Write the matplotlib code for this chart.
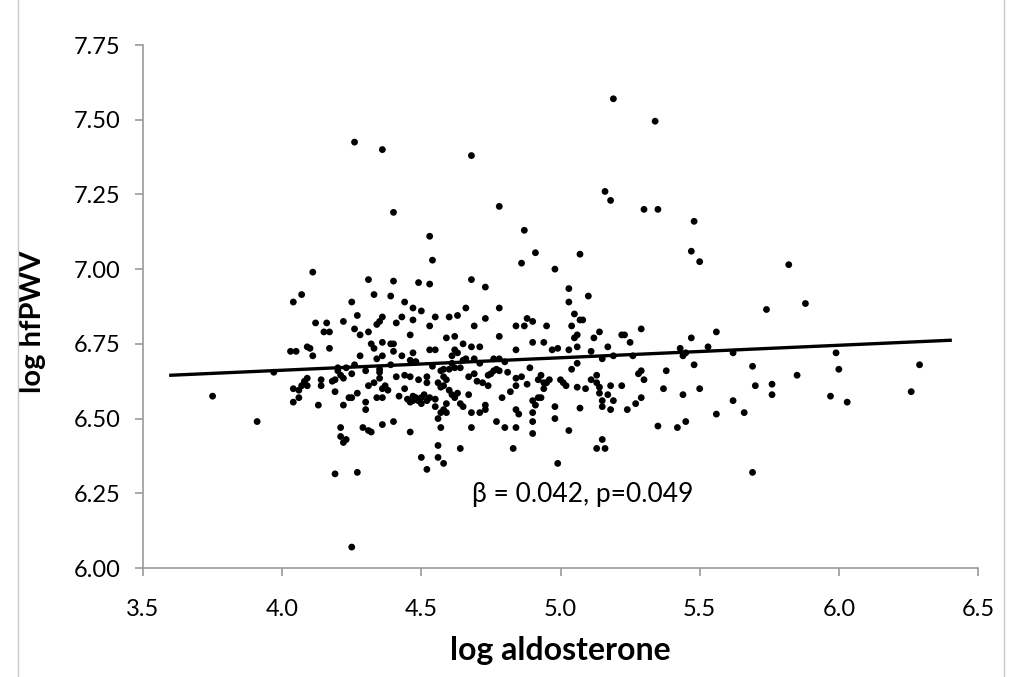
import numpy as np
import matplotlib.pyplot as plt
from matplotlib.patches import Rectangle

# log aldosterone / log hfPWV pairs
aldo = [
    4.26, 4.36, 4.68, 5.19, 5.34, 5.16, 5.18, 4.78, 4.40, 5.30, 5.35, 5.48, 4.87, 4.53,
    5.07, 4.91, 5.47, 4.54, 4.86, 5.50, 5.82, 4.98, 4.11, 4.31, 4.40, 4.49, 4.53, 4.68,
    4.73, 5.03, 4.07, 4.33, 4.39, 5.10, 4.04, 4.25, 4.44, 5.03, 5.88, 4.47, 4.66, 4.50,
    4.78, 5.74, 5.05, 4.27, 4.63, 4.55, 4.36, 4.43, 4.60, 4.88, 5.07, 5.08, 4.73, 4.47,
    4.90, 4.35, 4.22, 4.34, 4.12, 4.41, 4.16, 4.84, 4.53, 4.87, 4.95, 4.26, 4.31, 4.69,
    5.04, 5.29, 4.17, 4.15, 4.28, 4.59, 4.78, 4.62, 4.46, 5.06, 5.14, 5.22, 5.23, 5.47,
    5.56, 5.05, 5.12, 4.32, 4.39, 4.40, 4.53, 4.55, 4.36, 4.09, 4.10, 4.05, 4.17, 4.65,
    4.68, 4.71, 4.90, 4.94, 5.17, 5.25, 5.03, 5.06, 4.99, 4.97, 5.43, 5.45, 5.53, 5.44,
    5.99, 5.62, 4.84, 4.62, 4.40, 4.47, 4.63, 4.61, 4.36, 4.34, 4.11, 5.11, 5.15, 5.19,
    5.26, 4.76, 4.80, 4.78, 4.66, 4.69, 4.46, 4.48, 4.71,
    3.97, 4.23, 4.26, 4.20, 4.20, 4.21, 4.35, 4.35, 4.30, 4.14, 4.09, 4.08, 4.09, 4.07,
    4.08, 4.04, 4.06, 4.14, 4.18, 4.19, 4.22, 4.25, 4.31, 4.33, 4.35, 4.36, 4.37, 4.41,
    4.44, 4.46, 4.49, 4.52, 4.52, 4.56, 4.58, 4.58, 4.59, 4.60, 4.58, 4.57, 4.62, 4.64,
    4.67, 4.69, 4.75, 4.76, 4.77, 4.78, 4.72, 4.74, 4.79, 4.82, 4.84, 4.84, 4.89, 4.93,
    4.92, 4.94, 4.95, 4.96, 5.00, 5.01, 5.02, 5.04, 5.06, 5.06, 5.11, 5.13, 5.13, 5.14,
    5.18, 5.22, 5.28, 5.29, 5.30, 5.38, 5.37, 5.48, 5.50, 5.69, 5.70, 5.76, 5.76, 5.85,
    6.00, 5.97, 6.29, 6.26, 6.03, 5.44, 5.62, 5.56, 5.66, 5.69, 5.35, 5.42, 5.45, 5.27,
    5.24, 5.29, 5.18, 5.19, 5.15, 5.15, 5.17, 5.14, 5.13, 5.15, 5.16, 5.03, 4.99, 4.98,
    4.98, 5.07, 5.09, 4.93, 4.92, 4.91, 4.90, 4.90, 4.90, 4.90, 4.94, 4.85, 4.84, 4.84,
    4.80, 4.83, 4.77, 4.73, 4.73, 4.71, 4.68, 4.68, 4.64, 4.65, 4.64, 4.67, 4.61, 4.62,
    4.59, 4.58, 4.57, 4.59, 4.56, 4.57, 4.56, 4.56, 4.58, 4.50, 4.52, 4.50, 4.49, 4.48,
    4.47, 4.46, 4.50, 4.52, 4.53, 4.55, 4.46, 4.40, 4.36, 4.34, 4.36, 4.31, 4.32, 4.29,
    4.30, 4.30, 4.27, 4.25, 4.24, 4.22, 4.19, 4.21, 4.22, 4.23, 4.21, 4.19, 4.27, 4.25,
    4.13, 4.04, 4.06, 3.75, 3.91, 4.03,
    4.45, 4.47, 4.49, 4.51, 4.55, 4.57, 4.60, 4.63, 4.44, 4.42, 4.38, 4.70, 4.74, 4.81,
    4.86, 4.88, 4.65, 4.61, 4.54, 4.48, 4.43, 4.39, 4.28, 4.33,
]
pwv = [
    7.425, 7.40, 7.38, 7.57, 7.495, 7.26, 7.23, 7.21, 7.19, 7.20, 7.20, 7.16, 7.13, 7.11,
    7.05, 7.055, 7.06, 7.03, 7.02, 7.025, 7.015, 7.00, 6.99, 6.965, 6.96, 6.955, 6.95, 6.965,
    6.94, 6.935, 6.915, 6.915, 6.91, 6.91, 6.89, 6.89, 6.89, 6.89, 6.885, 6.87, 6.87, 6.86,
    6.87, 6.865, 6.85, 6.845, 6.845, 6.84, 6.84, 6.84, 6.84, 6.835, 6.83, 6.83, 6.835, 6.83,
    6.825, 6.825, 6.825, 6.815, 6.82, 6.82, 6.82, 6.81, 6.81, 6.81, 6.81, 6.80, 6.79, 6.81,
    6.81, 6.80, 6.79, 6.79, 6.78, 6.77, 6.775, 6.775, 6.78, 6.78, 6.79, 6.78, 6.78, 6.77,
    6.79, 6.77, 6.77, 6.75, 6.75, 6.75, 6.73, 6.73, 6.755, 6.74, 6.735, 6.725, 6.735, 6.75,
    6.74, 6.74, 6.755, 6.755, 6.74, 6.755, 6.73, 6.74, 6.735, 6.73, 6.735, 6.72, 6.74, 6.71,
    6.72, 6.72, 6.73, 6.73, 6.725, 6.72, 6.72, 6.71, 6.71, 6.70, 6.71, 6.725, 6.70, 6.71,
    6.71, 6.70, 6.69, 6.70, 6.70, 6.70, 6.695, 6.69, 6.685,
    6.655, 6.67, 6.68, 6.67, 6.66, 6.645, 6.655, 6.665, 6.66, 6.63, 6.635, 6.625, 6.61, 6.61,
    6.62, 6.60, 6.595, 6.61, 6.625, 6.63, 6.635, 6.65, 6.61, 6.62, 6.635, 6.60, 6.61, 6.64,
    6.645, 6.64, 6.63, 6.64, 6.62, 6.62, 6.61, 6.64, 6.63, 6.665, 6.665, 6.66, 6.67, 6.67,
    6.64, 6.65, 6.65, 6.66, 6.665, 6.66, 6.62, 6.61, 6.57, 6.59, 6.61, 6.635, 6.67, 6.645,
    6.63, 6.62, 6.62, 6.63, 6.63, 6.62, 6.61, 6.665, 6.685, 6.605, 6.63, 6.645, 6.62, 6.605,
    6.61, 6.61, 6.65, 6.66, 6.63, 6.66, 6.60, 6.68, 6.60, 6.675, 6.61, 6.615, 6.58, 6.645,
    6.665, 6.575, 6.68, 6.59, 6.555, 6.58, 6.56, 6.515, 6.52, 6.32, 6.475, 6.47, 6.49, 6.55,
    6.53, 6.57, 6.53, 6.56, 6.54, 6.56, 6.58, 6.585, 6.40, 6.43, 6.40, 6.46, 6.35, 6.50,
    6.54, 6.535, 6.60, 6.57, 6.57, 6.545, 6.56, 6.52, 6.49, 6.45, 6.60, 6.515, 6.53, 6.47,
    6.47, 6.40, 6.49, 6.53, 6.545, 6.52, 6.47, 6.52, 6.55, 6.54, 6.40, 6.58, 6.58, 6.57,
    6.55, 6.53, 6.52, 6.52, 6.50, 6.47, 6.41, 6.37, 6.35, 6.37, 6.33, 6.57, 6.56, 6.57,
    6.56, 6.555, 6.55, 6.56, 6.57, 6.54, 6.455, 6.49, 6.48, 6.57, 6.57, 6.46, 6.455, 6.47,
    6.53, 6.555, 6.585, 6.57, 6.57, 6.545, 6.59, 6.44, 6.42, 6.43, 6.47, 6.315, 6.32, 6.07,
    6.545, 6.555, 6.57, 6.575, 6.49, 6.725,
    6.565, 6.575, 6.56, 6.58, 6.565, 6.605, 6.595, 6.585, 6.60, 6.575, 6.595, 6.625, 6.645, 6.655,
    6.64, 6.615, 6.695, 6.685, 6.675, 6.69, 6.71, 6.68, 6.71, 6.735,
]

beta_text = "\u03b2 = 0.042, p=0.049"
line_x = [3.6, 6.4]
# fitted line ends as drawn
line_y = [6.645, 6.762]

xticks = [3.5, 4.0, 4.5, 5.0, 5.5, 6.0, 6.5]
yticks = [6.00, 6.25, 6.50, 6.75, 7.00, 7.25, 7.50, 7.75]

plt.rcParams['font.family'] = ['Lato', 'DejaVu Sans']

fig = plt.figure(figsize=(10.10, 6.77), dpi=100)
ax = fig.add_axes([143/1010, 1 - 568/677, (978 - 143)/1010, (568 - 45)/677])

ax.scatter(aldo, pwv, s=24, color='black', edgecolors='none', zorder=3)
ax.plot(line_x, line_y, color='black', lw=2.4, zorder=4)
ax.text(5.08, 6.245, beta_text, fontsize=19, ha='center', va='center')

ax.set_xlim(3.5, 6.5)
ax.set_ylim(6.0, 7.75)
ax.set_xticks(xticks)
ax.set_xticklabels([f"{v:.1f}" for v in xticks])
ax.set_yticks(yticks)
ax.set_yticklabels([f"{v:.2f}" for v in yticks])
ax.tick_params(axis='both', labelsize=17, color='#9a9a9a', length=6, width=1.2)
ax.tick_params(axis='x', pad=16)
ax.tick_params(axis='y', pad=10)
for side in ['top', 'right']:
    ax.spines[side].set_visible(False)
for side in ['left', 'bottom']:
    ax.spines[side].set_color('#9a9a9a')
    ax.spines[side].set_linewidth(1.2)

ax.set_xlabel("log aldosterone", fontsize=23, fontweight='bold', labelpad=12)
ax.set_ylabel("log hfPWV", fontsize=21, fontweight='bold', labelpad=20)
ax.yaxis.label.set_y(0.47)

# thin chart-area frame like the Excel export
fig.patches.append(Rectangle((18/1010, -0.01), (1004 - 18)/1010, 1.02, transform=fig.transFigure,
                             fill=False, edgecolor='#c8c8c8', lw=1))

fig.savefig("out.png", dpi=100)
